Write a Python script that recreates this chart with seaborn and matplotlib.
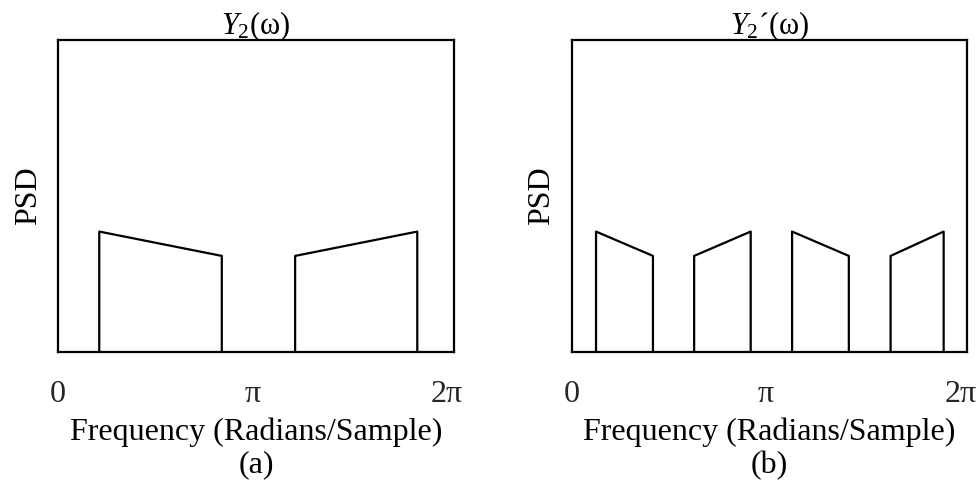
import numpy as np
import pandas as pd
import matplotlib
matplotlib.use("Agg")
import matplotlib.pyplot as plt
import seaborn as sns

# x positions in units of pi, heights in relative PSD units
a_start = [0.212, 1.219]
a_end = [0.842, 1.847]
a_h_start = [0.386, 0.308]
a_h_end = [0.308, 0.386]

b_start = [0.125, 0.630, 1.134, 1.641]
b_end = [0.418, 0.921, 1.426, 1.914]
b_h_start = [0.386, 0.308, 0.386, 0.308]
b_h_end = [0.308, 0.386, 0.308, 0.386]

tick_vals = [0, 1, 2]
tick_labels = ["0", "π", "2π"]
titles = [r"$Y_2$(ω)", r"$Y_2$´(ω)"]
panel_tags = ["(a)", "(b)"]

sns.set_theme(style="white")
plt.rcParams["font.family"] = ["Liberation Serif", "DejaVu Serif"]
plt.rcParams["mathtext.fontset"] = "custom"
plt.rcParams["mathtext.rm"] = "Liberation Serif"
plt.rcParams["mathtext.it"] = "Liberation Serif:italic"


def make_df(starts, ends, hs, he):
    rows = []
    for i, (x0, x1, y0, y1) in enumerate(zip(starts, ends, hs, he)):
        rows += [(i, 0, x0, 0.0), (i, 1, x0, y0), (i, 2, x1, y1), (i, 3, x1, 0.0)]
    return pd.DataFrame(rows, columns=["band", "order", "x", "y"])


dfs = [make_df(a_start, a_end, a_h_start, a_h_end),
       make_df(b_start, b_end, b_h_start, b_h_end)]

fig = plt.figure(figsize=(9.8, 4.87), dpi=100)
positions = [[0.0592, 0.2772, 0.4041, 0.6407],
             [0.5834, 0.2772, 0.4037, 0.6407]]

FS = 23
for k in range(2):
    ax = fig.add_axes(positions[k])
    sns.lineplot(data=dfs[k], x="x", y="y", units="band", estimator=None,
                 sort=False, color="black", linewidth=1.6, ax=ax)
    ax.set_xlim(0, 2.036)
    ax.set_ylim(0, 1)
    ax.set_xticks(tick_vals)
    ax.set_xticklabels(tick_labels, fontsize=FS)
    ax.set_yticks([])
    ax.tick_params(axis="x", length=0, pad=20)
    for s in ax.spines.values():
        s.set_color("black")
        s.set_linewidth(1.6)
    ax.set_xlabel("Frequency (Radians/Sample)\n" + panel_tags[k], fontsize=FS,
                  labelpad=6, linespacing=1.18, color="black")
    ax.set_ylabel("PSD", fontsize=FS, labelpad=11, color="black")
    ax.set_title(titles[k], fontsize=22, pad=4, color="black")

fig.savefig("out.png", dpi=100, facecolor="white")
